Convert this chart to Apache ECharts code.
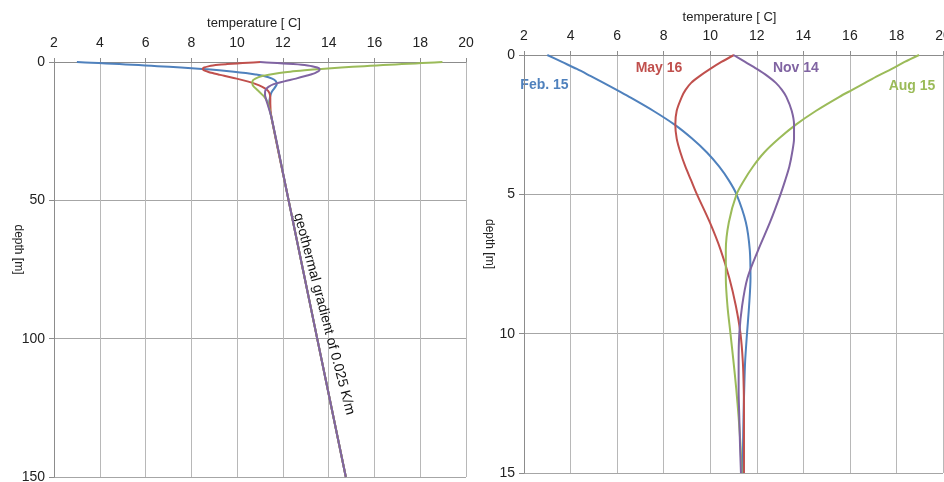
<!DOCTYPE html>
<html>
<head>
<meta charset="utf-8">
<script src="https://cdn.jsdelivr.net/npm/echarts@6/dist/echarts.min.js"></script>
<style>
  html, body { margin: 0; padding: 0; background: #fff; }
  #main { width: 944px; height: 482px; }
</style>
</head>
<body>
<div id="main"></div>
<script>
// depth of each reading [m]
var depths = [0, 0.25, 0.5, 0.75, 1, 1.25, 1.5, 2, 2.5, 3, 3.5, 4, 4.5, 5, 6, 7, 8, 9, 10, 11, 12, 13, 14, 15];
// temperature profiles [C] on the four dates
var feb15 = [3.0, 3.63, 4.27, 4.85, 5.42, 5.98, 6.52, 7.55, 8.47, 9.22, 9.86, 10.38, 10.8, 11.13, 11.53, 11.7, 11.73, 11.67, 11.58, 11.5, 11.46, 11.43, 11.41, 11.4];
var may16 = [11.02, 10.48, 10.0, 9.56, 9.18, 8.94, 8.78, 8.56, 8.5, 8.56, 8.72, 8.93, 9.18, 9.43, 9.98, 10.45, 10.82, 11.1, 11.3, 11.4, 11.44, 11.45, 11.45, 11.45];
var aug15 = [18.97, 18.35, 17.8, 17.2, 16.65, 16.1, 15.55, 14.55, 13.68, 12.95, 12.32, 11.84, 11.45, 11.13, 10.8, 10.67, 10.67, 10.74, 10.87, 11.0, 11.12, 11.22, 11.3, 11.35];
var nov14 = [11.0, 11.5, 12.0, 12.45, 12.82, 13.08, 13.27, 13.5, 13.6, 13.6, 13.52, 13.4, 13.22, 13.02, 12.57, 12.06, 11.6, 11.37, 11.25, 11.22, 11.22, 11.25, 11.28, 11.32];
// below the seasonal zone all profiles follow the geothermal gradient
var deepDepths = [20, 50, 100, 150];
var deepTemps = [11.5, 12.25, 13.5, 14.75];

var names = ['Feb. 15', 'May 16', 'Aug 15', 'Nov 14'];
var profiles = [feb15, may16, aug15, nov14];
var colors = ['#4f81bd', '#c0504d', '#9bbb59', '#8064a2'];
// where the date labels sit on the right chart [temperature, depth]
var labelPos = [[2.88, 1.08], [7.8, 0.47], [18.67, 1.1], [13.68, 0.47]];

function pairs(temps, ds) {
    var out = [];
    for (var i = 0; i < temps.length; i++) {
        out.push([temps[i], ds[i]]);
    }
    return out;
}

var font = 'Liberation Sans, Arial, sans-serif';

function xAxisFor(idx) {
    return {
        gridIndex: idx,
        type: 'value',
        position: 'top',
        min: 2, max: 20, interval: 2,
        name: 'temperature [ C]',
        nameLocation: 'middle',
        nameGap: idx === 0 ? 32 : 31,
        nameTextStyle: { color: '#222', fontSize: 13, fontFamily: font, padding: idx === 0 ? [0, 12, 0, 0] : [0, 8, 0, 0] },
        axisLine: { show: true, lineStyle: { color: '#8c8c8c', width: 1 } },
        axisTick: { show: true, length: 4, lineStyle: { color: '#8c8c8c' } },
        axisLabel: { color: '#222', fontSize: 14, fontFamily: font, margin: 12 },
        splitLine: { show: true, lineStyle: { color: '#b8b8b8', width: 1 } }
    };
}

function yAxisFor(idx, max, step) {
    return {
        gridIndex: idx,
        type: 'value',
        inverse: true,
        min: 0, max: max, interval: step,
        name: 'depth [m]',
        nameLocation: 'middle',
        nameRotate: -90,
        nameGap: idx === 0 ? 30 : 29,
        nameMoveOverlap: false,
        nameTextStyle: { color: '#222', fontSize: 12, fontFamily: font, padding: [0, 40, 0, 0] },
        axisLine: { show: true, lineStyle: { color: '#8c8c8c', width: 1 } },
        axisTick: { show: true, length: 5, lineStyle: { color: '#8c8c8c' } },
        axisLabel: { color: '#222', fontSize: 14, fontFamily: font, margin: 9 },
        splitLine: { show: true, lineStyle: { color: '#a6a6a6', width: 1 } }
    };
}

var series = [];
// left: whole 0-150 m profile
profiles.forEach(function (p, i) {
    series.push({
        name: names[i],
        type: 'line',
        xAxisIndex: 0, yAxisIndex: 0,
        data: pairs(p, depths).concat(pairs(deepTemps, deepDepths)),
        smooth: 0.3,
        showSymbol: false,
        lineStyle: { color: colors[i], width: 2 },
        itemStyle: { color: colors[i] }
    });
});
// right: zoom on the upper 15 m
profiles.forEach(function (p, i) {
    series.push({
        name: names[i],
        type: 'line',
        xAxisIndex: 1, yAxisIndex: 1,
        data: pairs(p, depths),
        smooth: 0.3,
        showSymbol: false,
        lineStyle: { color: colors[i], width: 2 },
        itemStyle: { color: colors[i] }
    });
});

var myChart = echarts.init(document.getElementById('main'));
myChart.setOption({
    animation: false,
    backgroundColor: '#fff',
    grid: [
        { left: 54, top: 62, width: 412, height: 415, outerBoundsMode: 'none' },
        { left: 524, top: 55, width: 419, height: 418, outerBoundsMode: 'none' }
    ],
    xAxis: [xAxisFor(0), xAxisFor(1)],
    yAxis: [yAxisFor(0, 150, 50), yAxisFor(1, 15, 5)],
    series: series
});

// annotations placed through the axes
var graphics = [];
names.forEach(function (n, i) {
    var pt = myChart.convertToPixel({ gridIndex: 1 }, labelPos[i]);
    graphics.push({
        type: 'text',
        x: pt[0], y: pt[1],
        style: {
            text: n, fill: colors[i],
            font: 'bold 14px ' + font,
            align: 'center', verticalAlign: 'middle'
        }
    });
});
var gp = myChart.convertToPixel({ gridIndex: 0 }, [13.8, 91.1]);
graphics.push({
    type: 'text',
    x: gp[0], y: gp[1],
    rotation: -75.3 * Math.PI / 180,
    style: {
        text: 'geothermal gradient of 0.025 K/m', fill: '#111',
        font: '14px ' + font,
        align: 'center', verticalAlign: 'middle'
    }
});
myChart.setOption({ graphic: graphics });
</script>
</body>
</html>
